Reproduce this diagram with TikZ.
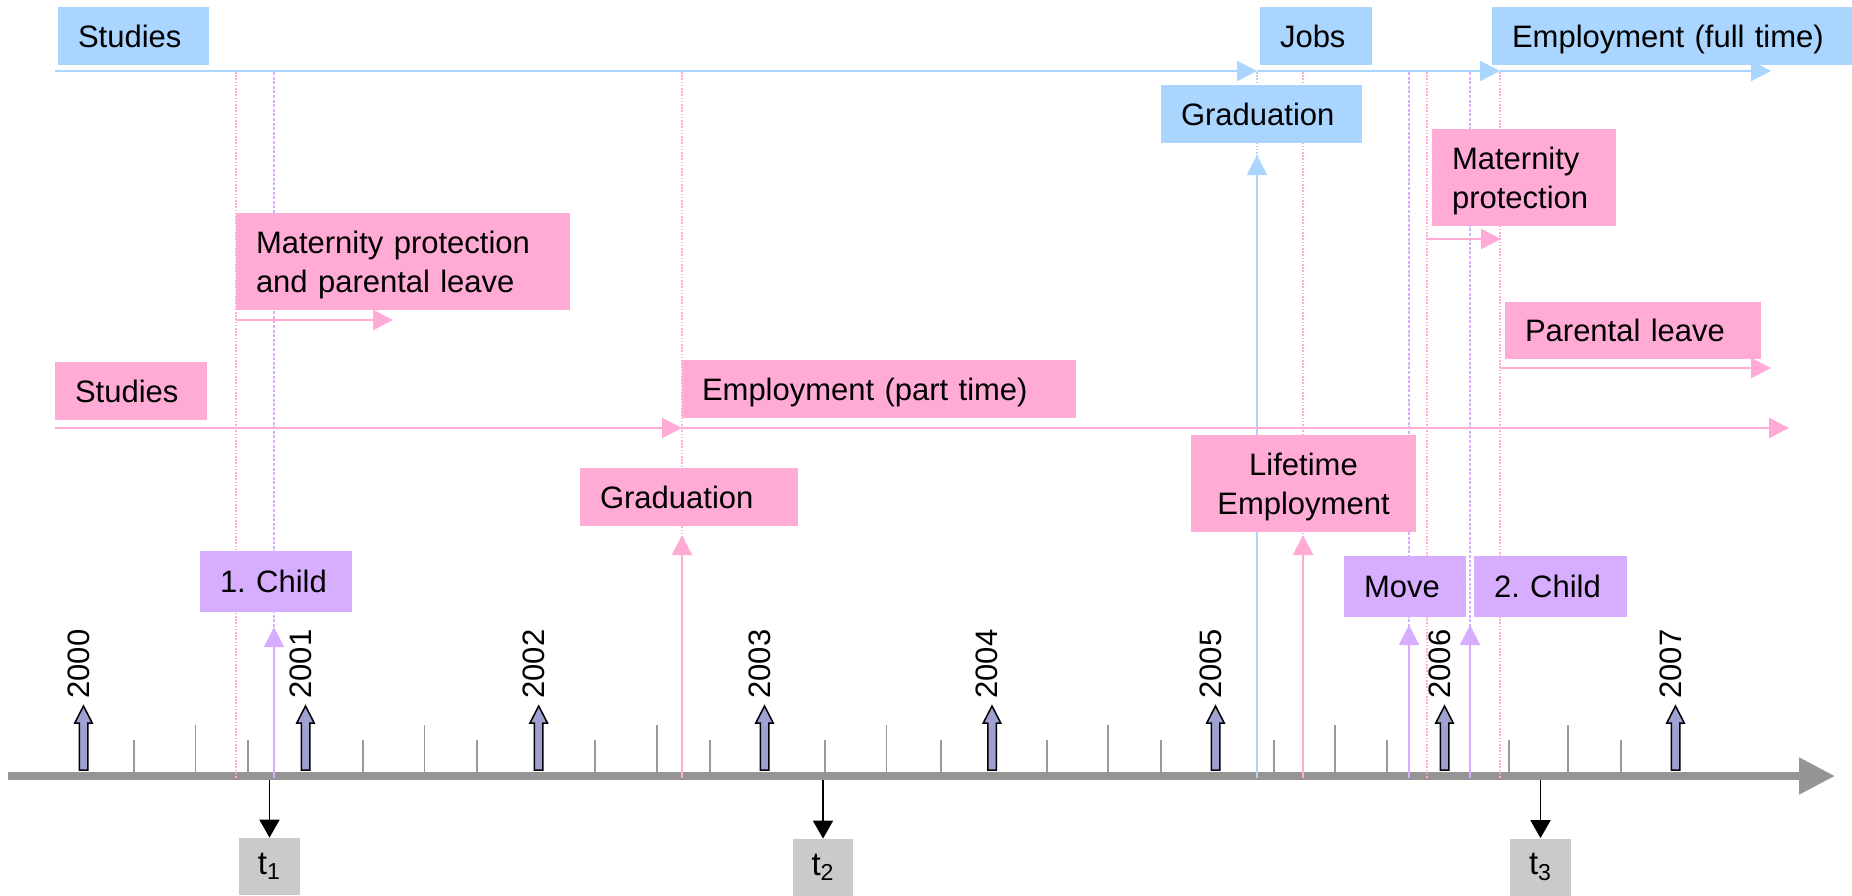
\documentclass[tikz,border=0pt]{standalone}
\usepackage{fontspec}
\setmainfont{Liberation Sans}
\usetikzlibrary{arrows.meta}
\definecolor{bl}{HTML}{A9D5FF}
\definecolor{pk}{HTML}{FFABD5}
\definecolor{lv}{HTML}{D7AEFF}
\definecolor{gb}{HTML}{CACACA}
\definecolor{axc}{HTML}{959595}
\definecolor{yf}{HTML}{A0A0D2}
\definecolor{tk}{HTML}{9A9A9A}
\tikzset{
  txt/.style={font=\fontsize{15.5}{19.5}\selectfont\frenchspacing},
  ebox/.style={txt, inner xsep=10pt, inner ysep=0pt, align=left, text height=11.1pt, text depth=0pt, draw=none},
  twolines/.style={text depth=19.5pt},
  hline/.style={line width=1.2pt, -{Triangle[length=10pt,width=10pt]}},
  vline/.style={line width=1pt, -{Triangle[length=10pt,width=10pt]}},
  dotl/.style={line width=1pt, dash pattern=on 0.8pt off 0.8pt},
  dashl/.style={line width=0.8pt, dash pattern=on 1.5pt off 0.8pt},
  tickl/.style={tk, line width=0.7pt},
  tbox/.style={font=\fontsize{16.5}{19.5}\selectfont, fill=gb, inner sep=0pt, minimum width=30.5pt, minimum height=28.5pt},
  tarrow/.style={line width=0.9pt, -{Triangle[length=9pt,width=10pt]}},
}
\newcommand\ebx[7]{%
  \pgfmathsetmacro\bw{(#4-#2)*0.5}%
  \pgfmathsetmacro\bh{(#5-#3)*0.5}%
  \pgfmathsetmacro\tw{(#4-#2-40)*0.5}%
  \node[#6, minimum width=\bw pt, minimum height=\bh pt, text width=\tw pt] (#1) at ({(#2+#4)/2},{(#3+#5)/2}) {#7};%
}
\begin{document}
\begin{tikzpicture}[x=0.5pt,y=-0.5pt]
\useasboundingbox (0,0) rectangle (1852,895);
% axis
\coordinate (axL) at (8,776);
\coordinate (axR) at (1835,776);
\draw[axc, line width=4pt, -{Triangle[length=18pt,width=17.5pt]}] (axL) -- (axR);
% ticks
\foreach \x in {134,248,363,477,595,710,825,941,1047,1161,1274,1387,1509,1621}
  \draw[tickl] (\x,772) -- (\x,740);
\foreach \x in {195.5,424.5,657,886.5,1108,1335,1568}
  \draw[tickl] (\x,772) -- (\x,725);
% year arrows and labels
\foreach \x/\yr in {83.5/2000,305.5/2001,538.7/2002,764.5/2003,992/2004,1215.5/2005,1444.5/2006,1675.5/2007}{
  \draw[fill=yf, line width=0.75pt, line join=miter] (\x-4.25,770) -- (\x+4.25,770) -- (\x+4.25,723) -- (\x+8.75,723) -- (\x,706) -- (\x-8.75,723) -- (\x-4.25,723) -- cycle;
  \node[txt, rotate=90, anchor=west, inner sep=0pt] (y\yr) at (\x-5,699) {\yr};
}
% vertical event lines
\foreach \x in {236,682,1303,1426.5,1500}
  \draw[pk, dotl] (\x,72) -- (\x,778);
\foreach \x in {274,1409,1470}
  \draw[lv, dashl] (\x,72) -- (\x,778);
\draw[bl, dotl] (1257,72) -- (1257,778);
% solid event arrows
\coordinate (c1a) at (274,776);  \coordinate (c1t) at (274,627);
\coordinate (gpa) at (682,776);  \coordinate (gpt) at (682,535);
\coordinate (gba) at (1257,776); \coordinate (gbt) at (1257,155);
\coordinate (lfa) at (1303,776); \coordinate (lft) at (1303,535);
\coordinate (mva) at (1409,776); \coordinate (mvt) at (1409,625);
\coordinate (c2a) at (1470,776); \coordinate (c2t) at (1470,625);
\draw[lv, vline] (c1a) -- (c1t);
\draw[pk, vline] (gpa) -- (gpt);
\draw[bl, vline] (gba) -- (gbt);
\draw[pk, vline] (lfa) -- (lft);
\draw[lv, vline] (mva) -- (mvt);
\draw[lv, vline] (c2a) -- (c2t);
% horizontal arrows
\coordinate (b0) at (55,71); \coordinate (b1) at (1257,71); \coordinate (b2) at (1500,71); \coordinate (b3) at (1771,71);
\draw[bl, hline] (b0) -- (b1);
\draw[bl, hline] (b1) -- (b2);
\draw[bl, hline] (b2) -- (b3);
\coordinate (p0) at (55,428); \coordinate (p1) at (682,428); \coordinate (p2) at (1789,428);
\draw[pk, hline] (p0) -- (p1);
\draw[pk, hline] (p1) -- (p2);
\coordinate (m1a) at (236,320); \coordinate (m1b) at (393,320);
\draw[pk, hline] (m1a) -- (m1b);
\coordinate (m2a) at (1426.5,239); \coordinate (m2b) at (1501,239);
\draw[pk, hline] (m2a) -- (m2b);
\coordinate (pla) at (1500,368); \coordinate (plb) at (1771,368);
\draw[pk, hline] (pla) -- (plb);
% boxes
\ebx{studiesB}{58}{7}{209}{65}{ebox,fill=bl}{Studies}
\ebx{jobs}{1260}{7}{1372}{65}{ebox,fill=bl}{Jobs}
\ebx{fullB}{1492}{7}{1852}{65}{ebox,fill=bl}{\mbox{Employment (full time)}}
\ebx{gradB}{1161}{85}{1362}{143}{ebox,fill=bl}{Graduation}
\ebx{mat2}{1432}{129}{1616}{226}{ebox,twolines,fill=pk}{Maternity\\protection}
\ebx{mat1}{236}{213}{570}{310}{ebox,twolines,fill=pk}{Maternity protection\\and parental leave}
\ebx{parent}{1505}{302}{1761}{359}{ebox,fill=pk}{Parental leave}
\ebx{studiesP}{55}{362}{207}{420}{ebox,fill=pk}{Studies}
\ebx{part}{682}{360}{1076}{418}{ebox,fill=pk}{Employment (part time)}
\ebx{life}{1191}{435}{1416}{532}{ebox,twolines,fill=pk,align=center}{Lifetime\\Employment}
\ebx{gradP}{580}{468}{798}{526}{ebox,fill=pk}{Graduation}
\ebx{child1}{200}{551}{352}{612}{ebox,fill=lv}{\mbox{1. Child}}
\ebx{move}{1344}{556}{1466}{617}{ebox,fill=lv}{Move}
\ebx{child2}{1474}{556}{1627}{617}{ebox,fill=lv}{\mbox{2. Child}}
% t markers
\node[tbox] (t1) at (269.5,866.5) {t\textsubscript{1}};
\node[tbox, minimum width=30pt] (t2) at (823,867.5) {t\textsubscript{2}};
\node[tbox] (t3) at (1540.5,867) {t\textsubscript{3}};
\coordinate (t1a) at (269.5,780);
\coordinate (t2a) at (823,780);
\coordinate (t3a) at (1540.5,780);
\draw[tarrow] (t1a) -- (t1.north);
\draw[tarrow] (t2a) -- (t2.north);
\draw[tarrow] (t3a) -- (t3.north);
\end{tikzpicture}
\end{document}
